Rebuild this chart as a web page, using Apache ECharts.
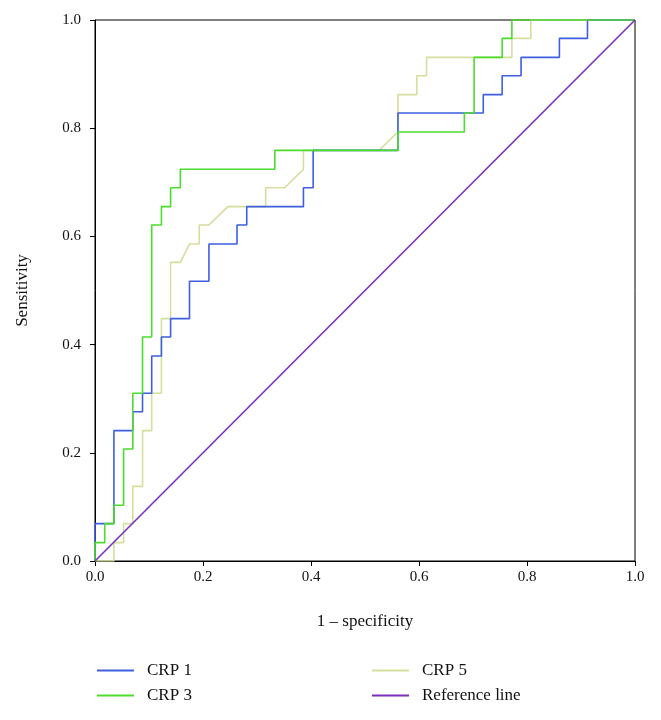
<!DOCTYPE html>
<html>
<head>
<meta charset="utf-8">
<script src="https://cdn.jsdelivr.net/npm/echarts@6/dist/echarts.min.js"></script>
<style>html,body{margin:0;padding:0;background:#fff}#c{width:661px;height:720px}</style>
</head>
<body>
<div id="c"></div>
<script>
// Tick labels
var tickLabels = ['0.0', '0.2', '0.4', '0.6', '0.8', '1.0'];
var seriesNames = ['CRP 1', 'CRP 3', 'CRP 5', 'Reference line'];

// CRP 1 (1 - specificity, sensitivity)
var crp1X = [0, 0, .035, .035, .070, .070, .088, .088, .105, .105, .123, .123, .140, .140, .175, .175, .211, .211, .263, .263, .281, .281, .386, .386, .404, .404, .561, .561, .719, .719, .754, .754, .789, .789, .860, .860, .912, .912, 1];
var crp1Y = [0, .069, .069, .241, .241, .276, .276, .310, .310, .379, .379, .414, .414, .448, .448, .517, .517, .586, .586, .621, .621, .655, .655, .690, .690, .759, .759, .828, .828, .862, .862, .897, .897, .931, .931, .966, .966, 1, 1];

// CRP 3
var crp3X = [0, 0, .018, .018, .035, .035, .053, .053, .070, .070, .088, .088, .105, .105, .123, .123, .140, .140, .158, .158, .333, .333, .561, .561, .684, .684, .702, .702, .754, .754, .772, .772, 1];
var crp3Y = [0, .034, .034, .069, .069, .103, .103, .207, .207, .310, .310, .414, .414, .621, .621, .655, .655, .690, .690, .724, .724, .759, .759, .793, .793, .828, .828, .931, .931, .966, .966, 1, 1];

// CRP 5
var crp5X = [0, .035, .035, .053, .053, .070, .070, .088, .088, .105, .105, .123, .123, .140, .140, .158, .175, .193, .193, .211, .246, .316, .316, .351, .386, .386, .526, .561, .561, .596, .596, .614, .614, .772, .772, .807, .807, 1];
var crp5Y = [0, 0, .034, .034, .069, .069, .138, .138, .241, .241, .310, .310, .448, .448, .552, .552, .586, .586, .621, .621, .655, .655, .690, .690, .724, .759, .759, .793, .862, .862, .897, .897, .931, .931, .966, .966, 1, 1];

// Reference line
var refX = [0, 1];
var refY = [0, 1];

function pairs(xs, ys) { return xs.map(function (x, i) { return [x, ys[i]]; }); }

var font = '"Liberation Serif", "DejaVu Serif", serif';
var colors = { 'CRP 1': '#3d5fe0', 'CRP 3': '#4cdc2c', 'CRP 5': '#d3e09c', 'Reference line': '#7b2dbf' };

function mkSeries(name, xs, ys, z) {
  return {
    name: name, type: 'line', data: pairs(xs, ys), symbol: 'none', z: z,
    lineStyle: { color: colors[name], width: 1.6 }, itemStyle: { color: colors[name] },
    animation: false
  };
}

var axisCommon = {
  type: 'value', min: 0, max: 1, interval: 0.2,
  axisLine: { show: true, lineStyle: { color: '#000', width: 1 } },
  axisTick: { show: true, inside: false, length: 5, lineStyle: { color: '#000' } },
  splitLine: { show: false },
  axisLabel: { color: '#111', fontFamily: font, fontSize: 15, formatter: function (v) { return tickLabels[Math.round(v * 5)]; } },
  nameTextStyle: { color: '#111', fontFamily: font, fontSize: 17 }
};

var legendText = { color: '#111', fontFamily: font, fontSize: 17, padding: [0, 0, 0, 8] };

var chart = echarts.init(document.getElementById('c'));
chart.setOption({
  animation: false,
  backgroundColor: '#fff',
  grid: { left: 95, right: 26, top: 20, bottom: 159, show: true, borderColor: '#000', borderWidth: 1, backgroundColor: 'transparent' },
  xAxis: Object.assign({}, axisCommon, { name: '1 – specificity', nameLocation: 'middle', nameGap: 52, axisLabel: Object.assign({}, axisCommon.axisLabel, { margin: 9 }) }),
  yAxis: Object.assign({}, axisCommon, { name: 'Sensitivity', nameLocation: 'middle', nameGap: 64, axisLabel: Object.assign({}, axisCommon.axisLabel, { margin: 14 }) }),
  legend: [
    { data: [seriesNames[0], seriesNames[1]], orient: 'vertical', left: 92, top: 657, icon: 'rect', itemWidth: 37, itemHeight: 2, itemGap: 8, textStyle: legendText, selectedMode: false },
    { data: [seriesNames[2], seriesNames[3]], orient: 'vertical', left: 367, top: 657, icon: 'rect', itemWidth: 37, itemHeight: 2, itemGap: 8, textStyle: legendText, selectedMode: false }
  ],
  series: [
    mkSeries('CRP 5', crp5X, crp5Y, 2),
    mkSeries('CRP 1', crp1X, crp1Y, 3),
    mkSeries('CRP 3', crp3X, crp3Y, 4),
    mkSeries('Reference line', refX, refY, 5)
  ]
});
</script>
</body>
</html>
